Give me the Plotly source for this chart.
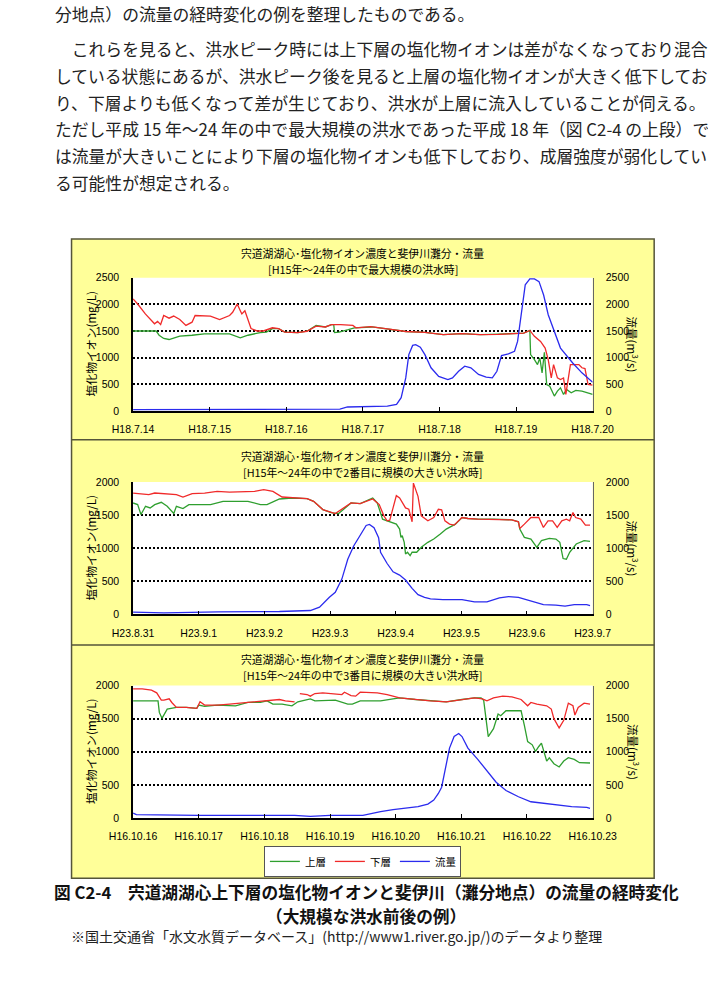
import plotly.graph_objects as go

W, H = 708, 982
def fx(px): return px / W
def fy(py): return 1 - py / H

# ---------------- DATA ----------------
# Panel 1 (H18.7.14 - H18.7.20), x = days from start
p1_labels = ["H18.7.14", "H18.7.15", "H18.7.16", "H18.7.17", "H18.7.18", "H18.7.19", "H18.7.20"]
p1_up_t = [0, 0.30, 0.34, 0.40, 0.47, 0.53, 0.61, 0.77, 0.93, 1.26, 1.34, 1.40, 1.50, 1.66, 1.74, 1.82, 1.90, 1.98,
           2.15, 2.27, 2.39, 2.51, 2.59, 2.62, 2.63, 2.69, 2.81, 2.89, 3.12, 3.32, 3.56, 3.81, 4.05, 4.29, 4.53,
           4.77, 5.02, 5.10, 5.18, 5.19, 5.24, 5.28, 5.31, 5.34, 5.37, 5.40, 5.44, 5.50, 5.54, 5.58, 5.62, 5.66,
           5.72, 5.78, 5.86, 6.0]
p1_up_v = [1500, 1500, 1420, 1360, 1340, 1370, 1405, 1420, 1445, 1445, 1405, 1370, 1420, 1470, 1480, 1545, 1545, 1480,
           1470, 1495, 1605, 1575, 1620, 1620, 1470, 1480, 1525, 1560, 1575, 1540, 1490, 1475, 1430, 1450, 1430,
           1440, 1445, 1460, 1510, 1057, 964, 870, 995, 715, 1100, 497, 466, 280, 373, 435, 311, 404,
           342, 385, 373, 311]
p1_lo_t = [0, 0.06, 0.16, 0.28, 0.32, 0.34, 0.36, 0.40, 0.47, 0.53, 0.61, 0.69, 0.77, 0.81, 1.01, 1.13, 1.26, 1.30,
           1.36, 1.40, 1.42, 1.46, 1.50, 1.54, 1.62, 1.70, 1.82, 1.90, 1.98, 2.15, 2.27, 2.39, 2.51, 2.59, 2.71,
           2.87, 2.91, 3.10, 3.32, 3.56, 3.81, 4.05, 4.29, 4.53, 4.77, 5.02, 5.10, 5.18, 5.24, 5.32, 5.38, 5.42,
           5.46, 5.49, 5.54, 5.58, 5.62, 5.65, 5.68, 5.71, 5.82, 5.86, 5.90, 5.94, 6.0]
p1_lo_v = [2100, 2005, 1820, 1635, 1680, 1650, 1620, 1790, 1740, 1780, 1715, 1605, 1665, 1790, 1780, 1715, 1790, 1850,
           2005, 1880, 1820, 1880, 1700, 1545, 1500, 1500, 1560, 1545, 1480, 1470, 1495, 1590, 1575, 1620, 1620,
           1605, 1560, 1580, 1540, 1490, 1475, 1430, 1450, 1430, 1435, 1445, 1460, 1510, 1400, 1305, 1180, 965,
           620, 870, 620, 590, 620, 310, 590, 870, 870, 810, 795, 500, 485]
p1_fl_t = [0, 1.0, 2.0, 2.7, 2.8, 3.1, 3.32, 3.44, 3.50, 3.56, 3.60, 3.65, 3.69, 3.75, 3.81, 3.89, 3.99, 4.11, 4.17,
           4.25, 4.33, 4.41, 4.51, 4.61, 4.69, 4.75, 4.81, 4.90, 4.98, 5.02, 5.08, 5.12, 5.18, 5.24, 5.30, 5.36,
           5.42, 5.50, 5.58, 5.74, 5.86, 6.0]
p1_fl_v = [25, 25, 30, 35, 75, 85, 90, 125, 250, 620, 1057, 1230, 1245, 1195, 1057, 810, 650, 590, 620,
           745, 840, 810, 685, 635, 620, 745, 1040, 1070, 1120, 1305, 1930, 2365, 2475, 2475, 2425, 2175,
           1805, 1490, 1180, 900, 715, 540]

# Panel 2 (H23.8.31 - H23.9.7)
p2_labels = ["H23.8.31", "H23.9.1", "H23.9.2", "H23.9.3", "H23.9.4", "H23.9.5", "H23.9.6", "H23.9.7"]
p2_up_t = [0, 0.07, 0.12, 0.19, 0.26, 0.33, 0.43, 0.52, 0.62, 0.66, 0.76, 0.85, 1.18, 1.37, 1.75, 1.94, 2.04, 2.23,
           2.42, 2.51, 2.65, 2.75, 2.89, 3.03, 3.13, 3.32, 3.46, 3.65, 3.72, 3.80, 3.87, 3.94, 4.01, 4.06, 4.08,
           4.10, 4.13, 4.15, 4.18, 4.22, 4.25, 4.32, 4.34, 4.39, 4.49, 4.58, 4.68, 4.77, 4.91, 5.01, 5.10, 5.25,
           5.49, 5.77, 5.87, 5.89, 5.96, 6.06, 6.15, 6.22, 6.34, 6.44, 6.50, 6.55, 6.60, 6.65, 6.75, 6.87, 6.96]
p2_up_v = [1685, 1660, 1510, 1635, 1610, 1660, 1695, 1635, 1525, 1635, 1600, 1660, 1660, 1710, 1710, 1660, 1660, 1745,
           1760, 1760, 1750, 1710, 1585, 1535, 1525, 1685, 1675, 1760, 1685, 1440, 1415, 1390, 1365, 1290, 1165,
           1190, 1090, 915, 940, 890, 940, 940, 965, 1015, 1090, 1140, 1215, 1290, 1365, 1465, 1450, 1440,
           1440, 1430, 1400, 1290, 1165, 1140, 1015, 1115, 1150, 1140, 1090, 845, 835, 940, 1065, 1115, 1105]
p2_lo_t = [0, 0.24, 0.33, 0.47, 0.66, 0.76, 0.90, 1.09, 1.28, 1.47, 1.66, 1.85, 1.99, 2.13, 2.27, 2.51, 2.65, 2.75,
           2.89, 3.08, 3.32, 3.46, 3.65, 3.75, 3.82, 3.87, 3.91, 3.96, 4.01, 4.06, 4.10, 4.15, 4.20, 4.25, 4.27,
           4.30, 4.34, 4.39, 4.49, 4.58, 4.65, 4.70, 4.75, 4.82, 4.89, 5.01, 5.10, 5.25, 5.49, 5.77, 5.87, 5.89,
           5.96, 6.06, 6.18, 6.25, 6.32, 6.39, 6.46, 6.53, 6.60, 6.65, 6.70, 6.74, 6.82, 6.89, 6.96]
p2_lo_v = [1835, 1810, 1835, 1825, 1810, 1775, 1825, 1835, 1860, 1850, 1850, 1860, 1885, 1860, 1775, 1760, 1750, 1710,
           1585, 1525, 1685, 1675, 1745, 1660, 1490, 1415, 1425, 1610, 1795, 1760, 1685, 1610, 1590, 1400, 1985,
           1885, 1785, 1490, 1415, 1465, 1590, 1580, 1415, 1365, 1350, 1465, 1450, 1440, 1440, 1430, 1400, 1300,
           1365, 1465, 1465, 1315, 1415, 1415, 1315, 1415, 1440, 1415, 1540, 1465, 1440, 1350, 1350]
p2_fl_t = [0, 0.47, 1.3, 2.23, 2.70, 2.84, 2.99, 3.08, 3.18, 3.27, 3.36, 3.46, 3.55, 3.60, 3.67, 3.74, 3.77, 3.87,
           3.96, 4.06, 4.15, 4.25, 4.34, 4.44, 4.53, 4.72, 5.01, 5.20, 5.39, 5.58, 5.72, 5.87, 6.06, 6.25, 6.44,
           6.58, 6.72, 6.91, 6.96]
p2_fl_v = [35, 25, 40, 45, 60, 110, 260, 335, 535, 835, 1035, 1210, 1345, 1360, 1310, 1160, 940, 770,
           645, 595, 520, 395, 300, 260, 235, 225, 225, 190, 190, 250, 270, 260, 200, 150, 140,
           125, 150, 150, 135]

# Panel 3 (H16.10.16 - H16.10.23)
p3_labels = ["H16.10.16", "H16.10.17", "H16.10.18", "H16.10.19", "H16.10.20", "H16.10.21", "H16.10.22", "H16.10.23"]
p3_up_t = [0, 0.38, 0.40, 0.44, 0.52, 0.62, 0.66, 0.81, 0.97, 1.0, 1.09, 1.28, 1.56, 1.75, 1.94, 2.04, 2.13, 2.27,
           2.42, 2.51, 2.65, 2.70, 2.77, 2.94, 3.08, 3.27, 3.34, 3.46, 3.77, 3.96, 4.06, 4.30, 4.53, 4.77, 5.01,
           5.20, 5.30, 5.34, 5.41, 5.49, 5.56, 5.60, 5.68, 5.91, 5.96, 6.01, 6.08, 6.13, 6.18, 6.22, 6.30, 6.34,
           6.41, 6.49, 6.56, 6.63, 6.72, 6.80, 6.96]
p3_up_v = [1770, 1770, 1595, 1505, 1645, 1670, 1670, 1670, 1655, 1705, 1685, 1705, 1695, 1745, 1745, 1770, 1720, 1720,
           1695, 1755, 1780, 1800, 1770, 1780, 1780, 1720, 1720, 1770, 1770, 1800, 1815, 1790, 1770, 1755, 1790,
           1815, 1815, 1780, 1230, 1350, 1570, 1545, 1620, 1620, 1400, 1155, 1105, 1005, 1080, 1130, 860, 910,
           820, 770, 860, 910, 885, 835, 830]
p3_lo_t = [0, 0.14, 0.28, 0.36, 0.43, 0.47, 0.55, 0.59, 0.66, 0.81, 0.97, 1.02, 1.09, 1.28, 1.47, 1.75, 1.99, 2.23,
           2.32, 2.46, 2.50, 2.54, 2.65, 2.70, 2.77, 2.89, 3.08, 3.18, 3.22, 3.32, 3.39, 3.46, 3.72, 3.87, 4.06,
           4.30, 4.53, 4.77, 5.01, 5.20, 5.32, 5.39, 5.49, 5.63, 5.77, 5.91, 6.01, 6.06, 6.15, 6.30, 6.37, 6.41,
           6.49, 6.56, 6.63, 6.70, 6.73, 6.78, 6.87, 6.96]
p3_lo_v = [1950, 1950, 1930, 1890, 1780, 1780, 1800, 1745, 1670, 1670, 1655, 1755, 1705, 1705, 1720, 1745, 1770, 1790,
           1770, 1755, None, 1880, 1865, 1840, 1880, 1890, 1880, 1865, 1900, 1850, 1840, 1900, 1890, 1865, 1815,
           1790, 1770, 1755, 1790, 1815, 1800, 1770, 1815, 1840, 1830, 1790, 1695, 1745, 1720, 1695, 1645, 1500,
           1360, 1475, 1735, 1695, 1555, 1670, 1735, 1720]
p3_fl_t = [0, 0.05, 1.0, 2.0, 2.46, 2.70, 2.84, 3.0, 3.5, 3.65, 3.77, 3.96, 4.15, 4.34, 4.49, 4.58, 4.65, 4.70,
           4.75, 4.82, 4.89, 4.96, 5.01, 5.10, 5.25, 5.39, 5.53, 5.68, 5.87, 6.06, 6.25, 6.44, 6.68, 6.91, 6.96]
p3_fl_v = [75, 50, 40, 40, 40, 25, 35, 40, 40, 75, 95, 125, 150, 170, 210, 270, 370, 465,
           710, 1055, 1230, 1275, 1230, 1055, 885, 710, 540, 415, 320, 245, 220, 195, 170, 160, 145]

series_names = ["上層", "下層", "流量"]
series_colors = ["#2F9F2F", "#F02A2A", "#2B2BEE"]

panel_titles = [
    ["宍道湖湖心･塩化物イオン濃度と斐伊川灘分・流量", "[H15年～24年の中で最大規模の洪水時]"],
    ["宍道湖湖心･塩化物イオン濃度と斐伊川灘分・流量", "[H15年～24年の中で2番目に規模の大きい洪水時]"],
    ["宍道湖湖心･塩化物イオン濃度と斐伊川灘分・流量", "[H15年～24年の中で3番目に規模の大きい洪水時]"],
]
y_max = [2500, 2000, 2000]
left_title = "塩化物イオン(mg/L)"
right_title = "流量(m<sup>3</sup>/s)"

body_lines = [
    "分地点）の流量の経時変化の例を整理したものである。",
    "　これらを見ると、洪水ピーク時には上下層の塩化物イオンは差がなくなっており混合",
    "している状態にあるが、洪水ピーク後を見ると上層の塩化物イオンが大きく低下してお",
    "り、下層よりも低くなって差が生じており、洪水が上層に流入していることが伺える。",
    "ただし平成 15 年～24 年の中で最大規模の洪水であった平成 18 年（図 C2-4 の上段）で",
    "は流量が大きいことにより下層の塩化物イオンも低下しており、成層強度が弱化してい",
    "る可能性が想定される。",
]
caption_lines = ["図 C2-4　宍道湖湖心上下層の塩化物イオンと斐伊川（灘分地点）の流量の経時変化",
                 "（大規模な洪水前後の例）"]
note = "※国土交通省「水文水質データベース」(http://www1.river.go.jp/)のデータより整理"

# ---------------- LAYOUT GEOMETRY (pixels) ----------------
PX_L, PX_R = 117, 610
panel_px = [(275, 410), (482, 616), (688, 822)]
panel_title_y = [(250, 266), (456, 472), (661, 677)]
BOX = (51, 236, 676, 883)
SEPS = [439, 647]

CJK = "Noto Sans CJK JP"
NUM = "Liberation Sans, Arial"

panels = [
    (p1_labels, (p1_up_t, p1_up_v), (p1_lo_t, p1_lo_v), (p1_fl_t, p1_fl_v)),
    (p2_labels, (p2_up_t, p2_up_v), (p2_lo_t, p2_lo_v), (p2_fl_t, p2_fl_v)),
    (p3_labels, (p3_up_t, p3_up_v), (p3_lo_t, p3_lo_v), (p3_fl_t, p3_fl_v)),
]

fig = go.Figure()
layout = {}
shapes = []
annotations = []

# yellow chart box
shapes.append(dict(type="rect", xref="paper", yref="paper", layer="below",
                   x0=fx(BOX[0]), x1=fx(BOX[2]), y0=fy(BOX[3]), y1=fy(BOX[1]),
                   fillcolor="#FFFF99", line=dict(color="#55553A", width=1.5)))
for s in SEPS:
    shapes.append(dict(type="line", xref="paper", yref="paper", layer="below",
                       x0=fx(BOX[0]), x1=fx(BOX[2]), y0=fy(s), y1=fy(s),
                       line=dict(color="#55553A", width=1.5)))

for i, (labels, up, lo, fl) in enumerate(panels):
    n = len(labels) - 1
    xa = "x" if i == 0 else f"x{i+1}"
    yl = "y" if i == 0 else f"y{2*i+1}"
    yr = f"y{2*i+2}"
    xkey = "xaxis" if i == 0 else f"xaxis{i+1}"
    ylkey = "yaxis" if i == 0 else f"yaxis{2*i+1}"
    yrkey = f"yaxis{2*i+2}"
    top, bot = panel_px[i]
    dom_x = [fx(PX_L), fx(PX_R)]
    dom_y = [fy(bot), fy(top)]
    ymax = y_max[i]

    # white plot area
    shapes.append(dict(type="rect", xref="paper", yref="paper", layer="below",
                       x0=dom_x[0], x1=dom_x[1], y0=dom_y[0], y1=dom_y[1],
                       fillcolor="white", line=dict(width=0)))

    layout[xkey] = dict(domain=dom_x, range=[0, n], anchor=yl, tickmode="array",
                        tickvals=list(range(n + 1)), ticktext=labels,
                        ticks="inside", ticklen=4, tickcolor="black", tickwidth=1,
                        showline=True, linecolor="black", linewidth=1.5,
                        showgrid=False, zeroline=False, fixedrange=True,
                        tickfont=dict(family=NUM, size=10.5, color="black"),
                        ticklabelstandoff=8)
    layout[ylkey] = dict(domain=dom_y, range=[0, ymax], anchor=xa, dtick=500, tick0=0,
                         showgrid=True, gridcolor="black", griddash="2px,2px", gridwidth=2,
                         showline=True, linecolor="black", linewidth=1.5, zeroline=False,
                         ticks="", tickfont=dict(family=NUM, size=10.5, color="black"),
                         ticklabelstandoff=10)
    layout[yrkey] = dict(range=[0, ymax], anchor=xa, overlaying=yl, side="right",
                         dtick=500, tick0=0, showgrid=False, zeroline=False,
                         showline=True, linecolor="#666666", linewidth=1,
                         ticks="", tickfont=dict(family=NUM, size=10.5, color="black"),
                         ticklabelstandoff=10)

    for j, (t, v) in enumerate([up, lo]):
        fig.add_trace(go.Scatter(x=t, y=v, mode="lines", name=series_names[j],
                                 line=dict(color=series_colors[j], width=1.3),
                                 xaxis=xa, yaxis=yl, showlegend=(i == 0),
                                 connectgaps=False, legendrank=j + 1))
    fig.add_trace(go.Scatter(x=fl[0], y=fl[1], mode="lines", name=series_names[2],
                             line=dict(color=series_colors[2], width=1.3),
                             xaxis=xa, yaxis=yr, showlegend=(i == 0), legendrank=3))

    cx = fx((PX_L + PX_R) / 2)
    for k, ln in enumerate(panel_titles[i]):
        annotations.append(dict(xref="paper", yref="paper", x=cx, y=fy(panel_title_y[i][k]),
                                text=ln, showarrow=False, xanchor="center", yanchor="middle",
                                font=dict(family=CJK, size=10.8, color="black")))
    cy = fy((top + bot) / 2)
    annotations.append(dict(xref="paper", yref="paper", x=fx(72), y=cy, text=left_title,
                            textangle=-90, showarrow=False, xanchor="center", yanchor="middle",
                            font=dict(family=CJK, size=11.5, color="black")))
    annotations.append(dict(xref="paper", yref="paper", x=fx(653), y=cy, text=right_title,
                            textangle=90, showarrow=False, xanchor="center", yanchor="middle",
                            font=dict(family=CJK, size=11.5, color="black")))

# body text
body_y = [8, 44, 71, 98, 125, 152, 179]
for k, ln in enumerate(body_lines):
    annotations.append(dict(xref="paper", yref="paper", x=fx(31), y=fy(body_y[k]), text=ln,
                            showarrow=False, xanchor="left", yanchor="middle",
                            font=dict(family=CJK, size=16.8, color="#222222")))

cap_y = [897, 921]
for k, ln in enumerate(caption_lines):
    annotations.append(dict(xref="paper", yref="paper", x=fx(367), y=fy(cap_y[k]), text="<b>" + ln + "</b>",
                            showarrow=False, xanchor="center", yanchor="middle",
                            font=dict(family=CJK, size=16.7, color="#111111")))
annotations.append(dict(xref="paper", yref="paper", x=fx(48), y=fy(942), text=note,
                        showarrow=False, xanchor="left", yanchor="middle",
                        font=dict(family=CJK, size=14, color="#222222")))

fig.update_layout(
    width=W, height=H, autosize=False,
    margin=dict(l=0, r=0, t=0, b=0, pad=0),
    paper_bgcolor="white", plot_bgcolor="rgba(0,0,0,0)",
    showlegend=True,
    legend=dict(orientation="h", x=fx(363), y=fy(866), xanchor="center", yanchor="middle",
                bgcolor="white", bordercolor="#555555", borderwidth=1,
                font=dict(family=CJK, size=10.5, color="black"),
                itemwidth=30, traceorder="normal", entrywidth=20, entrywidthmode="pixels"),
    shapes=shapes, annotations=annotations,
    **layout,
)

fig.write_html("out.html")
